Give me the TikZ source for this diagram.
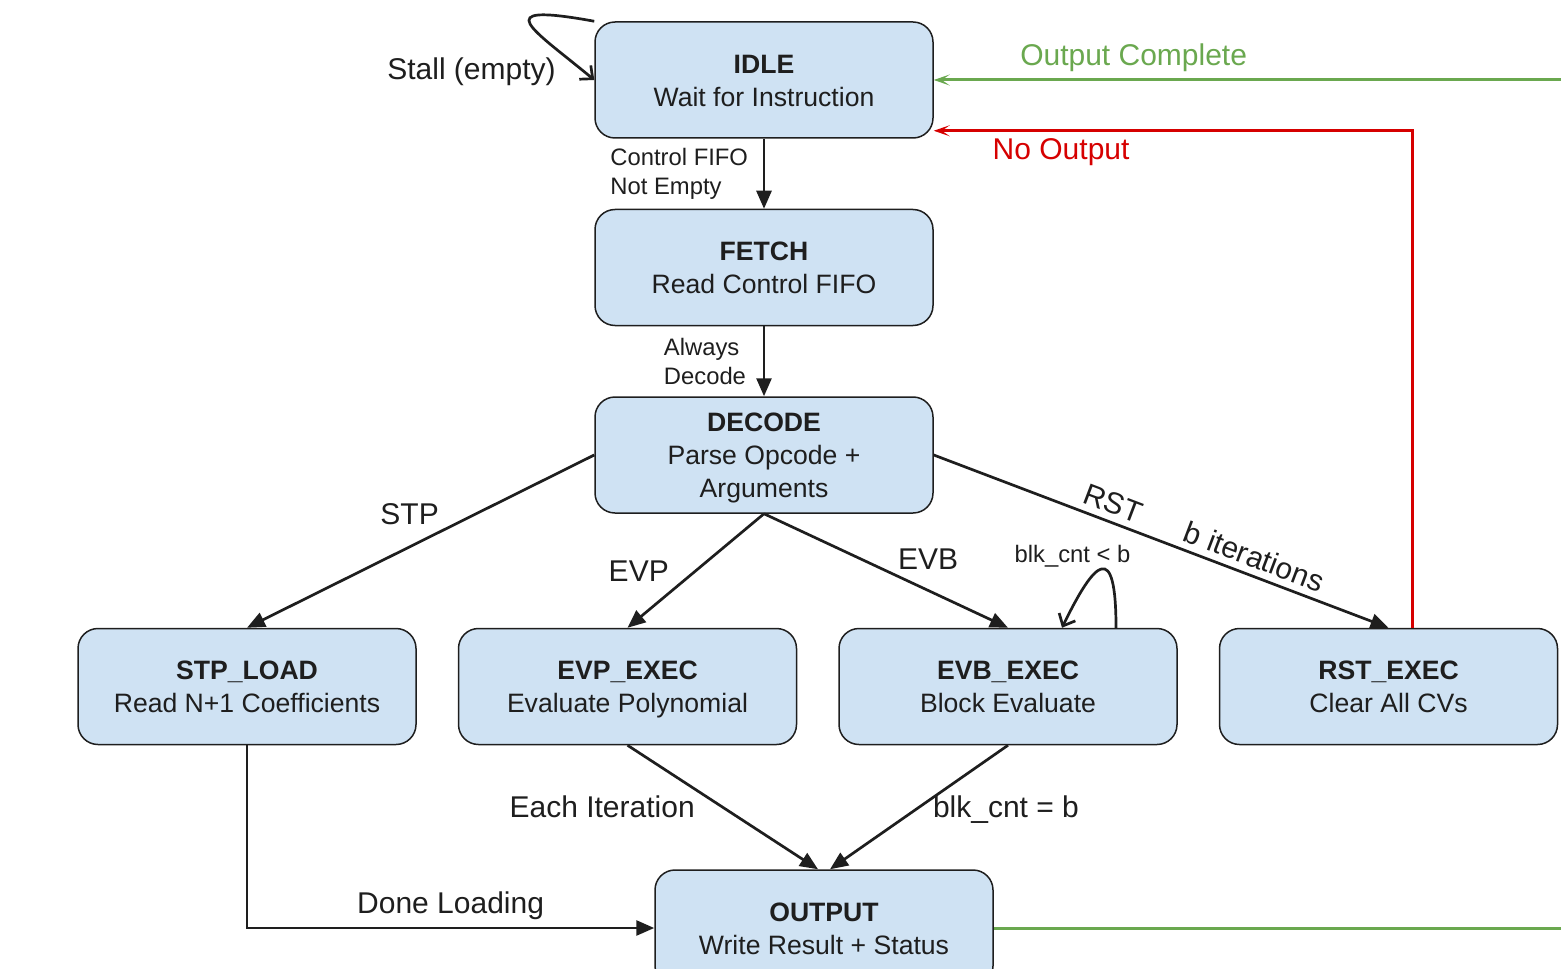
\documentclass[tikz,border=0pt]{standalone}
\usepackage{fontspec}
\setmainfont{Liberation Sans}
\usetikzlibrary{%
	calc,%
	arrows.meta,%
	positioning,%
}
\definecolor{cstate}{RGB}{207, 226, 243}
\definecolor{cgreen}{RGB}{106, 168, 79}
\definecolor{cred}{RGB}{214, 0, 0}
\definecolor{ctext}{RGB}{30, 30, 30}
\tikzset{
	>={Triangle[length=9pt,width=7.5pt]},%
	nodes={align=center, text=ctext},%
	statenode/.style={%
			draw=ctext,%
			fill=cstate,%
			rectangle,%
			line width=.75pt,%
			rounded corners=10pt,%
			inner ysep=1.5pt,%
			minimum width=169pt,%
			minimum height=58pt,%
			font={\fontsize{13.3}{16.5}\selectfont}},%
	edgelabel/.style={%
			font={\fontsize{15}{18}\selectfont}},%
	smalllabel/.style={%
			align=left,%
			font={\fontsize{11.9}{14.5}\selectfont}},%
	trans/.style={->, line width=1.35pt, draw=ctext},%
	selfloop/.style={-{Straight Barb[length=5pt,width=9pt]}, line width=1.35pt, draw=ctext},%
	backedge/.style={-{Stealth[length=8pt,width=5.5pt,inset=4pt]}, line width=1.5pt},%
}
\newcommand{\statetext}[2]{\rule{0pt}{14.5pt}\textbf{#1}\\#2\strut}

\begin{document}
\begin{tikzpicture}[x=.5pt, y=-.5pt]%
	\useasboundingbox (0,0) rectangle (1561,968);
	\clip (0,0) rectangle (1561,968);

	\node[statenode] (idle) at (764,80) {\statetext{IDLE}{Wait for Instruction}};
	\node[statenode, below=35pt of idle] (fetch) {\statetext{FETCH}{Read Control FIFO}};
	\node[statenode, below=35pt of fetch] (decode) {\statetext{DECODE}{Parse Opcode +\\Arguments}};

	\node[statenode] (stp) at (247,686.5) {\statetext{STP\_LOAD}{Read N+1 Coefficients}};
	\node[statenode, right=20.5pt of stp] (evp) {\statetext{EVP\_EXEC}{Evaluate Polynomial}};
	\node[statenode, right=20.5pt of evp] (evb) {\statetext{EVB\_EXEC}{Block Evaluate}};
	\node[statenode, right=20.5pt of evb] (rst) {\statetext{RST\_EXEC}{Clear All CVs}};

	\node[statenode] (output) at (824,928) {\statetext{OUTPUT}{Write Result + Status}};
	\coordinate (turn) at (1600,0);

	\draw[selfloop] (idle.north west) .. controls +(-110,-20) and +(-60,-50) .. (idle.west)
		node[edgelabel, pos=.9, left=6.5pt, yshift=-3pt] {Stall (empty)};
	\draw[trans] (idle) -- node[smalllabel, left=4pt] {Control FIFO\\Not Empty} (fetch);
	\draw[trans] (fetch) -- node[smalllabel, left=5pt] {Always\\Decode} (decode);

	\draw[trans] (decode.west) -- node[edgelabel, midway, xshift=-5.5pt, yshift=13.75pt] {STP} (stp.north);
	\draw[trans] (decode.south) -- node[edgelabel, midway, xshift=-28.5pt] {EVP} (evp.north);
	\draw[trans] (decode.south) -- node[edgelabel, midway, xshift=21pt, yshift=6pt] {EVB} (evb.north);
	\draw[trans] (decode.east) -- node[edgelabel, pos=.38, sloped, above] {RST}
		node[edgelabel, pos=.69, sloped, above] {b iterations} (rst.north);

	\draw[selfloop] ($(evb.north)+(108,0)$) .. controls +(0,-88) and +(33,-68) .. ($(evb.north)+(54,0)$)
		node[smalllabel, pos=.4, above, xshift=-17pt, yshift=-2.5pt] {blk\_cnt < b};

	\draw[trans] (evp.south) -- node[edgelabel, midway, left=10pt] {Each Iteration} ($(output.north)+(-6,0)$);
	\draw[trans] (evb.south) -- node[edgelabel, midway, right=3pt, yshift=-1pt] {blk\_cnt = b} ($(output.north)+(6,0)$);
	\draw[trans] (stp.south) |- node[edgelabel, pos=.75, above] {Done Loading} (output.west);

	\draw[backedge, draw=cgreen] (output.east) -- (output.east -| turn) -- (idle.east -| turn)
		-- node[edgelabel, pos=.7, above, text=cgreen] {Output Complete} (idle.east);
	\draw[backedge, draw=cred] ($(rst.north)+(24,0)$) |- node[edgelabel, pos=.867, below, text=cred] {No Output} ($(idle.south east)+(0,-8)$);
\end{tikzpicture}
\end{document}
